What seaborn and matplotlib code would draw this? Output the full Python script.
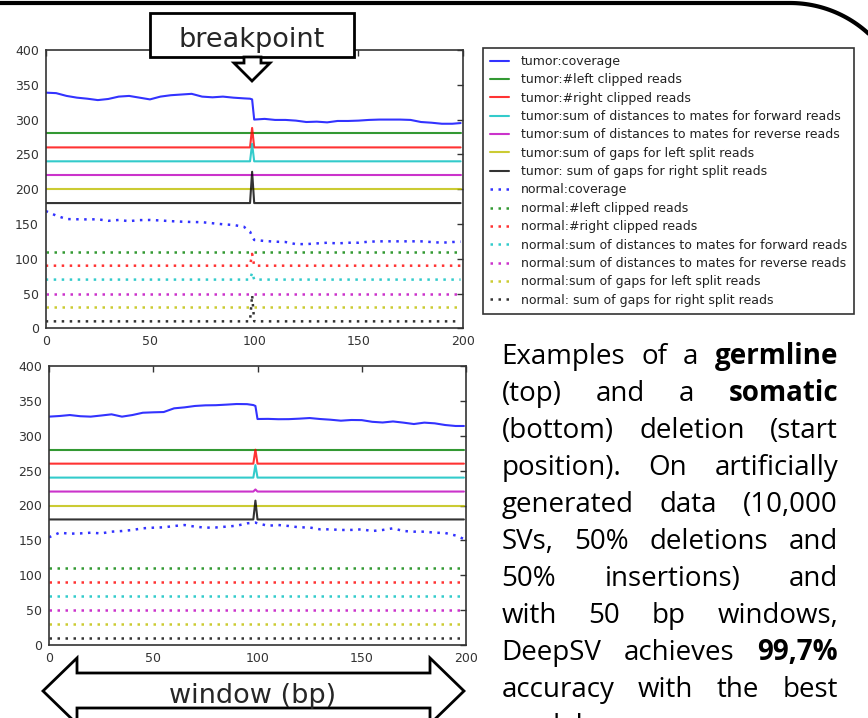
import numpy as np
import matplotlib
matplotlib.use("Agg")
import matplotlib.pyplot as plt
import seaborn as sns
from matplotlib.patches import Polygon, Rectangle
from matplotlib.lines import Line2D

cov_x = [0, 5, 10, 15, 20, 25, 30, 35, 40, 45, 50, 55, 60, 65, 70, 75, 80, 85, 90, 95,
         98, 99, 100, 105, 110, 115, 120, 125, 130, 135, 140, 145, 150, 155, 160, 165,
         170, 175, 180, 185, 190, 195, 199]
feat_x = [0, 98, 99, 100, 199]

# germline example (top)
top_tumor_cov = [338.7, 338, 334, 331.5, 330, 328, 329.6, 333, 334, 331.5, 329, 333, 335, 336,
                 337, 333, 332, 333, 331.5, 330.5, 330, 329, 300, 301, 299.5, 299.5, 298.5,
                 296.5, 297, 296, 298, 298, 298.5, 299.5, 300, 300, 300, 299.5, 296.5, 295.5,
                 294, 294, 295]
top_normal_cov = [168.6, 162, 157, 156.7, 156.5, 156.7, 154.5, 155.7, 154, 155.5, 155.7, 155,
                  154, 153.3, 152.8, 152.5, 151, 149.5, 148.5, 146, 139, 132, 127, 125.5,
                  124.5, 124, 121, 121, 122, 123, 122, 123, 123, 124.5, 125, 125, 125, 125,
                  125, 124, 123, 124, 124.5]
top_tumor_feats = [
    [280, 280, 280, 280, 280],
    [260, 260, 288, 260, 260],
    [240, 240, 265, 240, 240],
    [220, 220, 220, 220, 220],
    [200, 200, 200, 200, 200],
    [180, 180, 225, 180, 180],
]
top_normal_feats = [
    [110, 110, 110, 110, 110],
    [90, 90, 107, 90, 90],
    [70, 70, 80, 70, 70],
    [50, 50, 50, 50, 50],
    [30, 30, 30, 30, 30],
    [10, 10, 48, 10, 10],
]

# somatic example (bottom)
bot_tumor_cov = [327.4, 328.3, 329.7, 328, 327.4, 329, 330.7, 327.4, 329.7, 333, 333.6, 334,
                 339.3, 340.7, 342.7, 343.6, 343.8, 344.6, 345.5, 345.3, 344, 342.7, 324,
                 324.2, 323.7, 323.8, 324.5, 325.4, 324, 323, 321.6, 322.6, 322.4, 320, 319,
                 320.5, 318.8, 316.8, 318.8, 317.8, 315.4, 314, 314]
bot_normal_cov = [154.4, 161, 159.6, 160, 161, 160, 162.5, 163.4, 164.9, 167.3, 168.2, 168.7,
                  170.6, 172, 169.7, 168.2, 168.5, 169.7, 171, 174.4, 175.4, 175.5, 174.4, 171,
                  172, 170.6, 168.7, 168.5, 165.8, 165.8, 164.9, 165, 165.8, 163.4, 164.9,
                  167.3, 163.4, 162.5, 162.5, 161, 160.6, 157, 152]
bot_tumor_feats = [
    [280, 280, 280, 280, 280],
    [260, 260, 280, 260, 260],
    [240, 240, 258, 240, 240],
    [220, 220, 223, 220, 220],
    [200, 200, 200, 200, 200],
    [180, 180, 207, 180, 180],
]
bot_normal_feats = [
    [110, 110, 110, 110, 110],
    [90, 90, 90, 90, 90],
    [70, 70, 70, 70, 70],
    [50, 50, 50, 50, 50],
    [30, 30, 30, 30, 30],
    [10, 10, 10, 10, 10],
]

feature_names = ["coverage", "#left clipped reads", "#right clipped reads",
                 "sum of distances to mates for forward reads",
                 "sum of distances to mates for reverse reads",
                 "sum of gaps for left split reads", " sum of gaps for right split reads"]
legend_labels = (["tumor:" + n for n in feature_names] +
                 ["normal:" + n for n in feature_names])
colors = ["#0000ff", "#008000", "#ff0000", "#00bfbf", "#bf00bf", "#bfbf00", "#000000"]

para_lines = ["Examples of a germline", "(top) and a somatic", "(bottom) deletion (start",
              "position). On artificially", "generated data (10,000",
              "SVs, 50% deletions and", "50% insertions) and", "with 50 bp windows,",
              "DeepSV achieves 99,7%", "accuracy with the best", "model"]
bold_words = {"germline", "somatic", "99,7%"}

sns.set_style("white")
plt.rcParams["font.family"] = ["DejaVu Sans"]

W, H = 868, 718
fig = plt.figure(figsize=(W / 100, H / 100), dpi=100)


def px(x, y):
    return (x / W, 1 - y / H)


dotted = (0, (1, 2.2))


def draw_panel(ax, tumor_cov, normal_cov, tumor_feats, normal_feats):
    sns.lineplot(x=cov_x, y=tumor_cov, ax=ax, color=colors[0], lw=1.5, alpha=0.8, legend=False)
    for c, vals in zip(colors[1:], tumor_feats):
        sns.lineplot(x=feat_x, y=vals, ax=ax, color=c, lw=1.5, alpha=0.8, legend=False)
    sns.lineplot(x=cov_x, y=normal_cov, ax=ax, color=colors[0], lw=1.8, alpha=0.8,
                 linestyle=dotted, legend=False)
    for c, vals in zip(colors[1:], normal_feats):
        sns.lineplot(x=feat_x, y=vals, ax=ax, color=c, lw=1.8, alpha=0.8,
                     linestyle=dotted, legend=False)
    ax.set_xlim(0, 200)
    ax.set_ylim(0, 400)
    ax.set_xticks([0, 50, 100, 150, 200])
    ax.set_yticks(range(0, 401, 50))
    ax.set_xlabel("")
    ax.set_ylabel("")
    ax.tick_params(direction="in", top=True, right=True, length=4, width=1,
                   color="#333333", labelsize=9, labelcolor="#333333", pad=5)
    for s in ax.spines.values():
        s.set_color("#333333")
        s.set_linewidth(1.2)


ax_top = fig.add_axes([45.7 / W, 1 - 328.3 / H, 417 / W, 278.3 / H])
ax_bot = fig.add_axes([49 / W, 1 - 645 / H, 417 / W, 279 / H])
draw_panel(ax_top, top_tumor_cov, top_normal_cov, top_tumor_feats, top_normal_feats)
draw_panel(ax_bot, bot_tumor_cov, bot_normal_cov, bot_tumor_feats, bot_normal_feats)

leg = fig.legend(handles=ax_top.lines[:14], labels=legend_labels, loc="upper left",
                 bbox_to_anchor=px(483, 48), bbox_transform=fig.transFigure,
                 frameon=True, fancybox=False, edgecolor="#333333", framealpha=1,
                 fontsize=9, handlelength=1.5, handletextpad=1.0, labelspacing=0.43,
                 borderpad=0.55, borderaxespad=0)
leg.get_frame().set_linewidth(1.2)
for t in leg.get_texts():
    t.set_color("#222222")

# "breakpoint" box and arrow
fig.add_artist(Rectangle(px(150, 57), 204 / W, 44 / H, transform=fig.transFigure,
                         facecolor="white", edgecolor="black", lw=2, zorder=5))
fig.add_artist(Polygon([px(244, 57), px(244, 63), px(234, 63), px(252, 81), px(270, 63),
                        px(261, 63), px(261, 57)], closed=True, transform=fig.transFigure,
                       facecolor="white", edgecolor="black", lw=2, zorder=6))
fig.text(*px(252, 47), "breakpoint", fontsize=19.5, ha="center", va="baseline", zorder=7)

# "window (bp)" double arrow
fig.add_artist(Polygon([px(43, 691), px(77, 658), px(77, 673), px(430, 673), px(430, 658),
                        px(464, 691), px(430, 724), px(430, 708), px(77, 708), px(77, 724)],
                       closed=True, transform=fig.transFigure, facecolor="white",
                       edgecolor="black", lw=2, zorder=5))
fig.text(*px(253, 703), "window (bp)", fontsize=19.5, ha="center", va="baseline", zorder=7)

# slide frame at the top
ang = np.linspace(np.pi / 2, np.pi / 6, 40)
fx = [0] + list(790 + 116 * np.cos(ang))
fy = [3] + list(119 - 116 * np.sin(ang))
fig.add_artist(Line2D([x / W for x in fx], [1 - y / H for y in fy], transform=fig.transFigure,
                      color="black", lw=3, solid_capstyle="butt"))

# justified paragraph on the right
renderer = fig.canvas.get_renderer()
left, right = 501.5, 838
for i, line in enumerate(para_lines):
    base = 364 + 37 * i
    words = line.split()
    texts = [fig.text(0, 0, w, fontsize=20, family="Open Sans", color="black",
                      weight="bold" if w in bold_words else "normal", va="baseline")
             for w in words]
    widths = [t.get_window_extent(renderer).width for t in texts]
    if len(words) > 1:
        gap = (right - left - sum(widths)) / (len(words) - 1)
    else:
        gap = 0
    x = left
    for t, w in zip(texts, widths):
        t.set_position(px(x, base))
        x += w + gap

fig.savefig("out.png", dpi=100)
